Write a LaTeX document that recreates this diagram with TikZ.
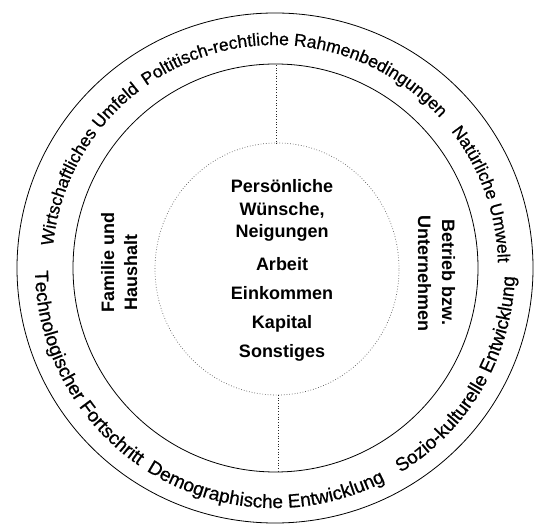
\documentclass[tikz,border=0pt]{standalone}
\usepackage{fontspec}
\setmainfont{Liberation Sans}
\newfontfamily\arcfont[FakeBold=0.7]{Liberation Sans}
\usetikzlibrary{decorations.text}
\tikzset{
  ring/.style={draw=black, line width=0.8pt},
  innerring/.style={draw=black!65, line width=0.7pt, dotted},
  divider/.style={draw=black!85, line width=0.7pt, dotted},
  inlabel/.style={anchor=base, inner sep=0pt, font=\fontsize{18}{18}\selectfont\bfseries},
  sidelabel/.style={anchor=base, inner sep=0pt, font=\fontsize{18}{18}\selectfont\bfseries},
  toptext/.style={decorate, decoration={text along path, text align=center,
     text={|\arcfont\fontsize{17.5}{17.5}\selectfont|#1}}},
  bottext/.style={decorate, decoration={text along path, text align=center,
     text={|\arcfont\fontsize{19}{19}\selectfont|#1}}}
}
\begin{document}
\begin{tikzpicture}[x=1pt,y=1pt]
\useasboundingbox (0,0) rectangle (534,524);
\coordinate (C) at (275,256);
% circles
\draw[ring] (275,256) ellipse [x radius=258, y radius=255];
\draw[ring] (275.5,256) ellipse [x radius=202.5, y radius=204];
\draw[innerring] (277,255) ellipse [x radius=122, y radius=126];
% dividers
\coordinate (it) at (276,380);
\coordinate (mt) at (276,460);
\coordinate (ib) at (278,129);
\coordinate (mb) at (278,52);
\draw[divider] (it) -- (mt);
\draw[divider] (ib) -- (mb);
% outer ring texts (top: clockwise, bottom: counter-clockwise)
\begin{scope}[shift={(C)}]
\path[toptext={Wirtschaftliches Umfeld}] (220.85:223) arc[start angle=220.85, end angle=80.85, radius=223];
\path[toptext={Poltitisch-rechtliche Rahmenbedingungen}] (153.75:223) arc[start angle=153.75, end angle=13.75, radius=223];
\path[toptext={Natürliche Umwelt}] (89.6:223) arc[start angle=89.6, end angle=-50.4, radius=223];
\path[bottext={Technologischer Fortschritt}] (138:240) arc[start angle=138, end angle=278, radius=240];
\path[bottext={Demographische Entwicklung}] (197.5:240) arc[start angle=197.5, end angle=337.5, radius=240];
\path[bottext={Sozio-kulturelle Entwicklung}] (259.75:240) arc[start angle=259.75, end angle=399.75, radius=240];
\end{scope}
% centre texts
\node[inlabel] (t1) at (282,331) {Persönliche};
\node[inlabel] (t2) at (282,308.5) {Wünsche,};
\node[inlabel] (t3) at (282,286) {Neigungen};
\node[inlabel] (t4) at (282,253) {Arbeit};
\node[inlabel] (t5) at (282,224) {Einkommen};
\node[inlabel] (t6) at (282,195) {Kapital};
\node[inlabel] (t7) at (282,166) {Sonstiges};
% side texts
\node[sidelabel, rotate=90] (f1) at (114,261.5) {Familie und};
\node[sidelabel, rotate=90] (f2) at (137,251.5) {Haushalt};
\node[sidelabel, rotate=-90] (b1) at (442,251.5) {Betrieb bzw.};
\node[sidelabel, rotate=-90] (b2) at (418,250.5) {Unternehmen};
\end{tikzpicture}
\end{document}
